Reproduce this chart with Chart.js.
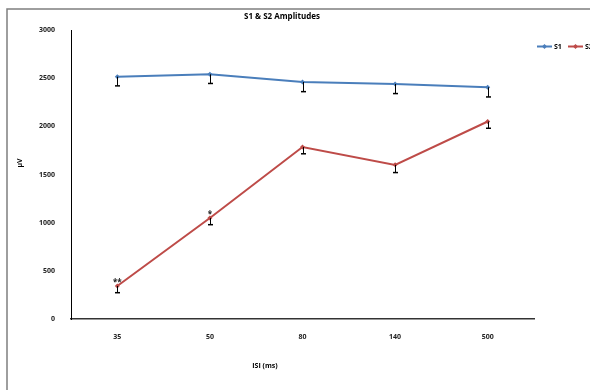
<!DOCTYPE html>
<html><head><meta charset="utf-8">
<script src="https://cdn.jsdelivr.net/npm/chart.js@4/dist/chart.umd.min.js"></script>
<style>html,body{margin:0;padding:0;background:#fff}canvas{display:block}</style>
</head><body>
<canvas id="c" width="590" height="390"></canvas>
<script>
const categories = ['35', '50', '80', '140', '500'];
const s1Values = [2515, 2540, 2460, 2440, 2405];
const s1Errors = [95, 95, 100, 100, 100];
const s2Values = [343, 1049, 1785, 1600, 2050];
const s2Errors = [70, 70, 70, 80, 70];
const s2Marks = ['**', '*', '', '', ''];
const seriesNames = ['S1', 'S2'];
const chartTitle = 'S1 & S2 Amplitudes';
const xTitle = 'ISI (ms)';
const yTitle = 'µV';

const FONT = '"Open Sans", Lato, sans-serif';
const BLUE = '#4a7ebb';
const RED = '#be4b48';

function diamond(ctx, x, y, r, color) {
  ctx.fillStyle = color;
  ctx.beginPath();
  ctx.moveTo(x, y - r); ctx.lineTo(x + r, y); ctx.lineTo(x, y + r); ctx.lineTo(x - r, y);
  ctx.closePath(); ctx.fill();
}

const decor = {
  id: 'decor',
  beforeDraw(chart) {
    const ctx = chart.ctx;
    ctx.save();
    ctx.fillStyle = '#fff';
    ctx.fillRect(0, 0, chart.width, chart.height);
    ctx.strokeStyle = '#7f7f7f';
    ctx.lineWidth = 1.5;
    ctx.beginPath();
    ctx.moveTo(7, 400); ctx.lineTo(7, 9); ctx.lineTo(600, 9);
    ctx.stroke();
    ctx.restore();
  },
  afterDatasetsDraw(chart) {
    const ctx = chart.ctx;
    const xs = chart.scales.x, ys = chart.scales.y;
    ctx.save();
    const sets = [[s1Values, s1Errors], [s2Values, s2Errors]];
    ctx.strokeStyle = '#000';
    sets.forEach(([vals, errs]) => {
      vals.forEach((v, i) => {
        const x = Math.round(xs.getPixelForValue(i)) + 0.5;
        const y0 = ys.getPixelForValue(v);
        const y1 = ys.getPixelForValue(v - errs[i]);
        ctx.lineWidth = 1;
        ctx.beginPath(); ctx.moveTo(x, y0); ctx.lineTo(x, y1); ctx.stroke();
        ctx.lineWidth = 1.5;
        ctx.beginPath(); ctx.moveTo(x - 2.5, y1); ctx.lineTo(x + 2.5, y1); ctx.stroke();
      });
    });
    ctx.fillStyle = '#222';
    ctx.font = 'bold 8px ' + FONT;
    ctx.textAlign = 'center';
    ctx.textBaseline = 'alphabetic';
    s2Marks.forEach((m, i) => {
      if (!m) return;
      const x = xs.getPixelForValue(i);
      const y = ys.getPixelForValue(s2Values[i]);
      ctx.fillText(m, x, y - 1);
    });
    ctx.restore();
  },
  afterDraw(chart) {
    const ctx = chart.ctx;
    ctx.save();
    ctx.fillStyle = '#000';
    ctx.font = 'bold 8px ' + FONT;
    ctx.textAlign = 'center';
    ctx.textBaseline = 'middle';
    ctx.fillText(chartTitle, 282, 17);
    ctx.font = 'bold 7px ' + FONT;
    ctx.fillText(xTitle, 265, 366);
    ctx.save();
    ctx.translate(20, 163);
    ctx.rotate(-Math.PI / 2);
    ctx.fillText(yTitle, 0, 0);
    ctx.restore();
    // legend
    const colors = [BLUE, RED];
    const starts = [537, 568];
    ctx.textAlign = 'left';
    seriesNames.forEach((n, k) => {
      const x = starts[k];
      ctx.strokeStyle = colors[k];
      ctx.lineWidth = 2;
      ctx.beginPath(); ctx.moveTo(x, 46.5); ctx.lineTo(x + 15, 46.5); ctx.stroke();
      diamond(ctx, x + 7.5, 46.5, 2.5, colors[k]);
      ctx.fillStyle = '#000';
      ctx.fillText(n, x + 17, 47);
    });
    ctx.restore();
  }
};

new Chart(document.getElementById('c'), {
  type: 'line',
  data: {
    labels: categories,
    datasets: [
      { label: seriesNames[0], data: s1Values, borderColor: BLUE, backgroundColor: BLUE, borderWidth: 2,
        pointStyle: 'rectRot', pointRadius: 2.5, pointBorderWidth: 0, tension: 0 },
      { label: seriesNames[1], data: s2Values, borderColor: RED, backgroundColor: RED, borderWidth: 2,
        pointStyle: 'rectRot', pointRadius: 2.5, pointBorderWidth: 0, tension: 0 }
    ]
  },
  options: {
    responsive: false,
    animation: false,
    devicePixelRatio: 1,
    layout: { padding: { left: 7, right: 56, top: 30, bottom: 40 } },
    plugins: { legend: { display: false }, title: { display: false }, tooltip: { enabled: false } },
    scales: {
      x: {
        type: 'category',
        offset: true,
        grid: { display: false },
        border: { display: true, color: '#333', width: 1.5 },
        ticks: { color: '#222', font: { family: FONT, size: 7, weight: 'bold' }, padding: 6, maxRotation: 0 },
        afterFit(s) { s.height = 31; }
      },
      y: {
        min: 0, max: 3000,
        grid: { display: false },
        border: { display: true, color: '#000', width: 1 },
        ticks: { stepSize: 500, color: '#222', font: { family: FONT, size: 7, weight: 'bold' }, padding: 8,
          callback: (v) => String(v) },
        afterFit(s) { s.width = 64; }
      }
    }
  },
  plugins: [decor]
});
</script>
</body></html>
